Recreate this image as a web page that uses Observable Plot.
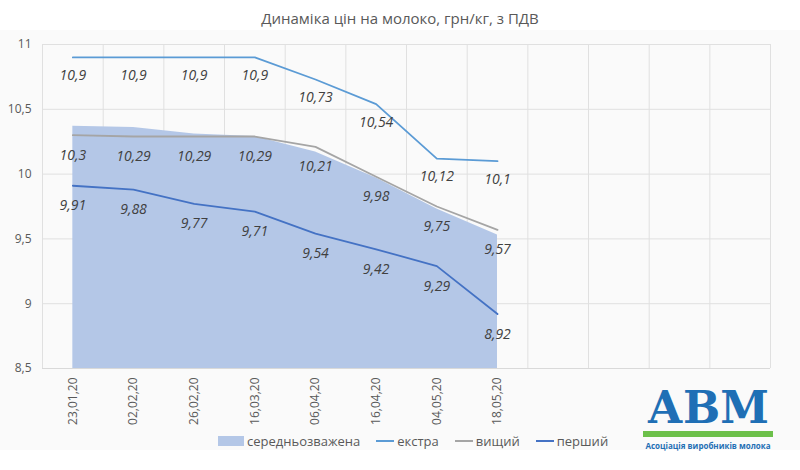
<!DOCTYPE html>
<html><head><meta charset="utf-8">
<script src="https://cdn.jsdelivr.net/npm/d3@7"></script>
<script src="https://cdn.jsdelivr.net/npm/@observablehq/plot@0.6"></script>
<style>
body{margin:0;background:#fff;font-family:"Open Sans",sans-serif}
#wrap{position:relative;width:800px;height:470px}
#title{position:absolute;top:8px;width:800px;text-align:center;font-size:15px;color:#595959}
#chart{position:absolute;top:30px;left:0}
#legend{position:absolute;top:432px;left:218px;font-size:13px;color:#595959;display:flex;gap:16px}
#legend span{display:flex;align-items:center;gap:3px}
#logo{position:absolute;left:643px;top:385px;width:130px;text-align:center}
</style></head><body>
<div id="wrap">
<div id="title">Динаміка цін на молоко, грн/кг, з ПДВ</div>
<div id="chart"></div>
<div id="legend">
<span><i style="display:inline-block;width:26px;height:10px;background:#b4c7e7"></i>середньозважена</span>
<span><i style="display:inline-block;width:18px;height:2px;background:#5b9bd5"></i>екстра</span>
<span><i style="display:inline-block;width:18px;height:2px;background:#a5a5a5"></i>вищий</span>
<span><i style="display:inline-block;width:18px;height:2px;background:#4472c4"></i>перший</span>
</div>
<div id="logo"><div style="font:bold 44px 'DejaVu Serif',serif;color:#1f6fb5;line-height:46px;border-bottom:6px solid #6cc04a">АВМ</div>
<div style="font-size:8px;color:#1f6fb5;font-weight:bold;margin-top:3px">Асоціація виробників молока</div></div>
</div>
<script>
const dates = ['23.01.20','02.02.20','26.02.20','16.03.20','06.04.20','16.04.20','04.05.20','18.05.20']
const slots = 12
const avg = [10.37,10.36,10.31,10.29,10.17,9.97,9.73,9.53]
const ekstra = [10.9,10.9,10.9,10.9,10.73,10.54,10.12,10.1]
const vyshchyi = [10.3,10.29,10.29,10.29,10.21,9.98,9.75,9.57]
const pershyi = [9.91,9.88,9.77,9.71,9.54,9.42,9.29,8.92]
const yTicks = [8.5,9,9.5,10,10.5,11]

const rows = s => s.map((v,i) => ({i, v}))
const fmt = v => String(v).replace('.', ',')
const lab = {fontSize:14, fontStyle:'italic', fill:'#404040'}

const chart = Plot.plot({
  width: 800, height: 420,
  marginLeft: 42, marginRight: 30, marginTop: 14, marginBottom: 82,
  x: {type:'linear', domain:[-0.5, slots-0.5]},
  y: {domain:[8.5, 11], label:null},
  style: {background:'#fafafa', fontFamily:'"Open Sans",sans-serif', color:'#595959'},
  marks: [
    Plot.ruleY(yTicks, {stroke:'#e0e0e0'}),
    Plot.ruleX(d3.range(slots+1).map(i => i-0.5), {stroke:'#e0e0e0'}),
    Plot.areaY(rows(avg), {x:'i', y1:8.5, y2:'v', fill:'#b4c7e7'}),
    Plot.lineY(rows(ekstra), {x:'i', y:'v', stroke:'#5b9bd5', strokeWidth:1.8}),
    Plot.lineY(rows(vyshchyi), {x:'i', y:'v', stroke:'#a5a5a5', strokeWidth:1.8}),
    Plot.lineY(rows(pershyi), {x:'i', y:'v', stroke:'#4472c4', strokeWidth:1.8}),
    Plot.text(rows(ekstra), {x:'i', y:'v', text:d=>fmt(d.v), dy:18, ...lab}),
    Plot.text(rows(vyshchyi), {x:'i', y:'v', text:d=>fmt(d.v), dy:20, ...lab}),
    Plot.text(rows(pershyi), {x:'i', y:'v', text:d=>fmt(d.v), dy:20, ...lab}),
    Plot.axisY(yTicks, {tickSize:0, tickFormat:fmt, fontSize:12, dx:-2, label:null}),
    Plot.axisX(d3.range(slots), {tickSize:0, tickRotate:-90, fontSize:12, label:null,
      tickFormat: i => dates[i] ? dates[i].replace(/\./g, ',') : ''}),
    Plot.ruleY([8.5], {stroke:'#d9d9d9'})
  ]
})
document.getElementById('chart').append(chart)
</script>
</body></html>
